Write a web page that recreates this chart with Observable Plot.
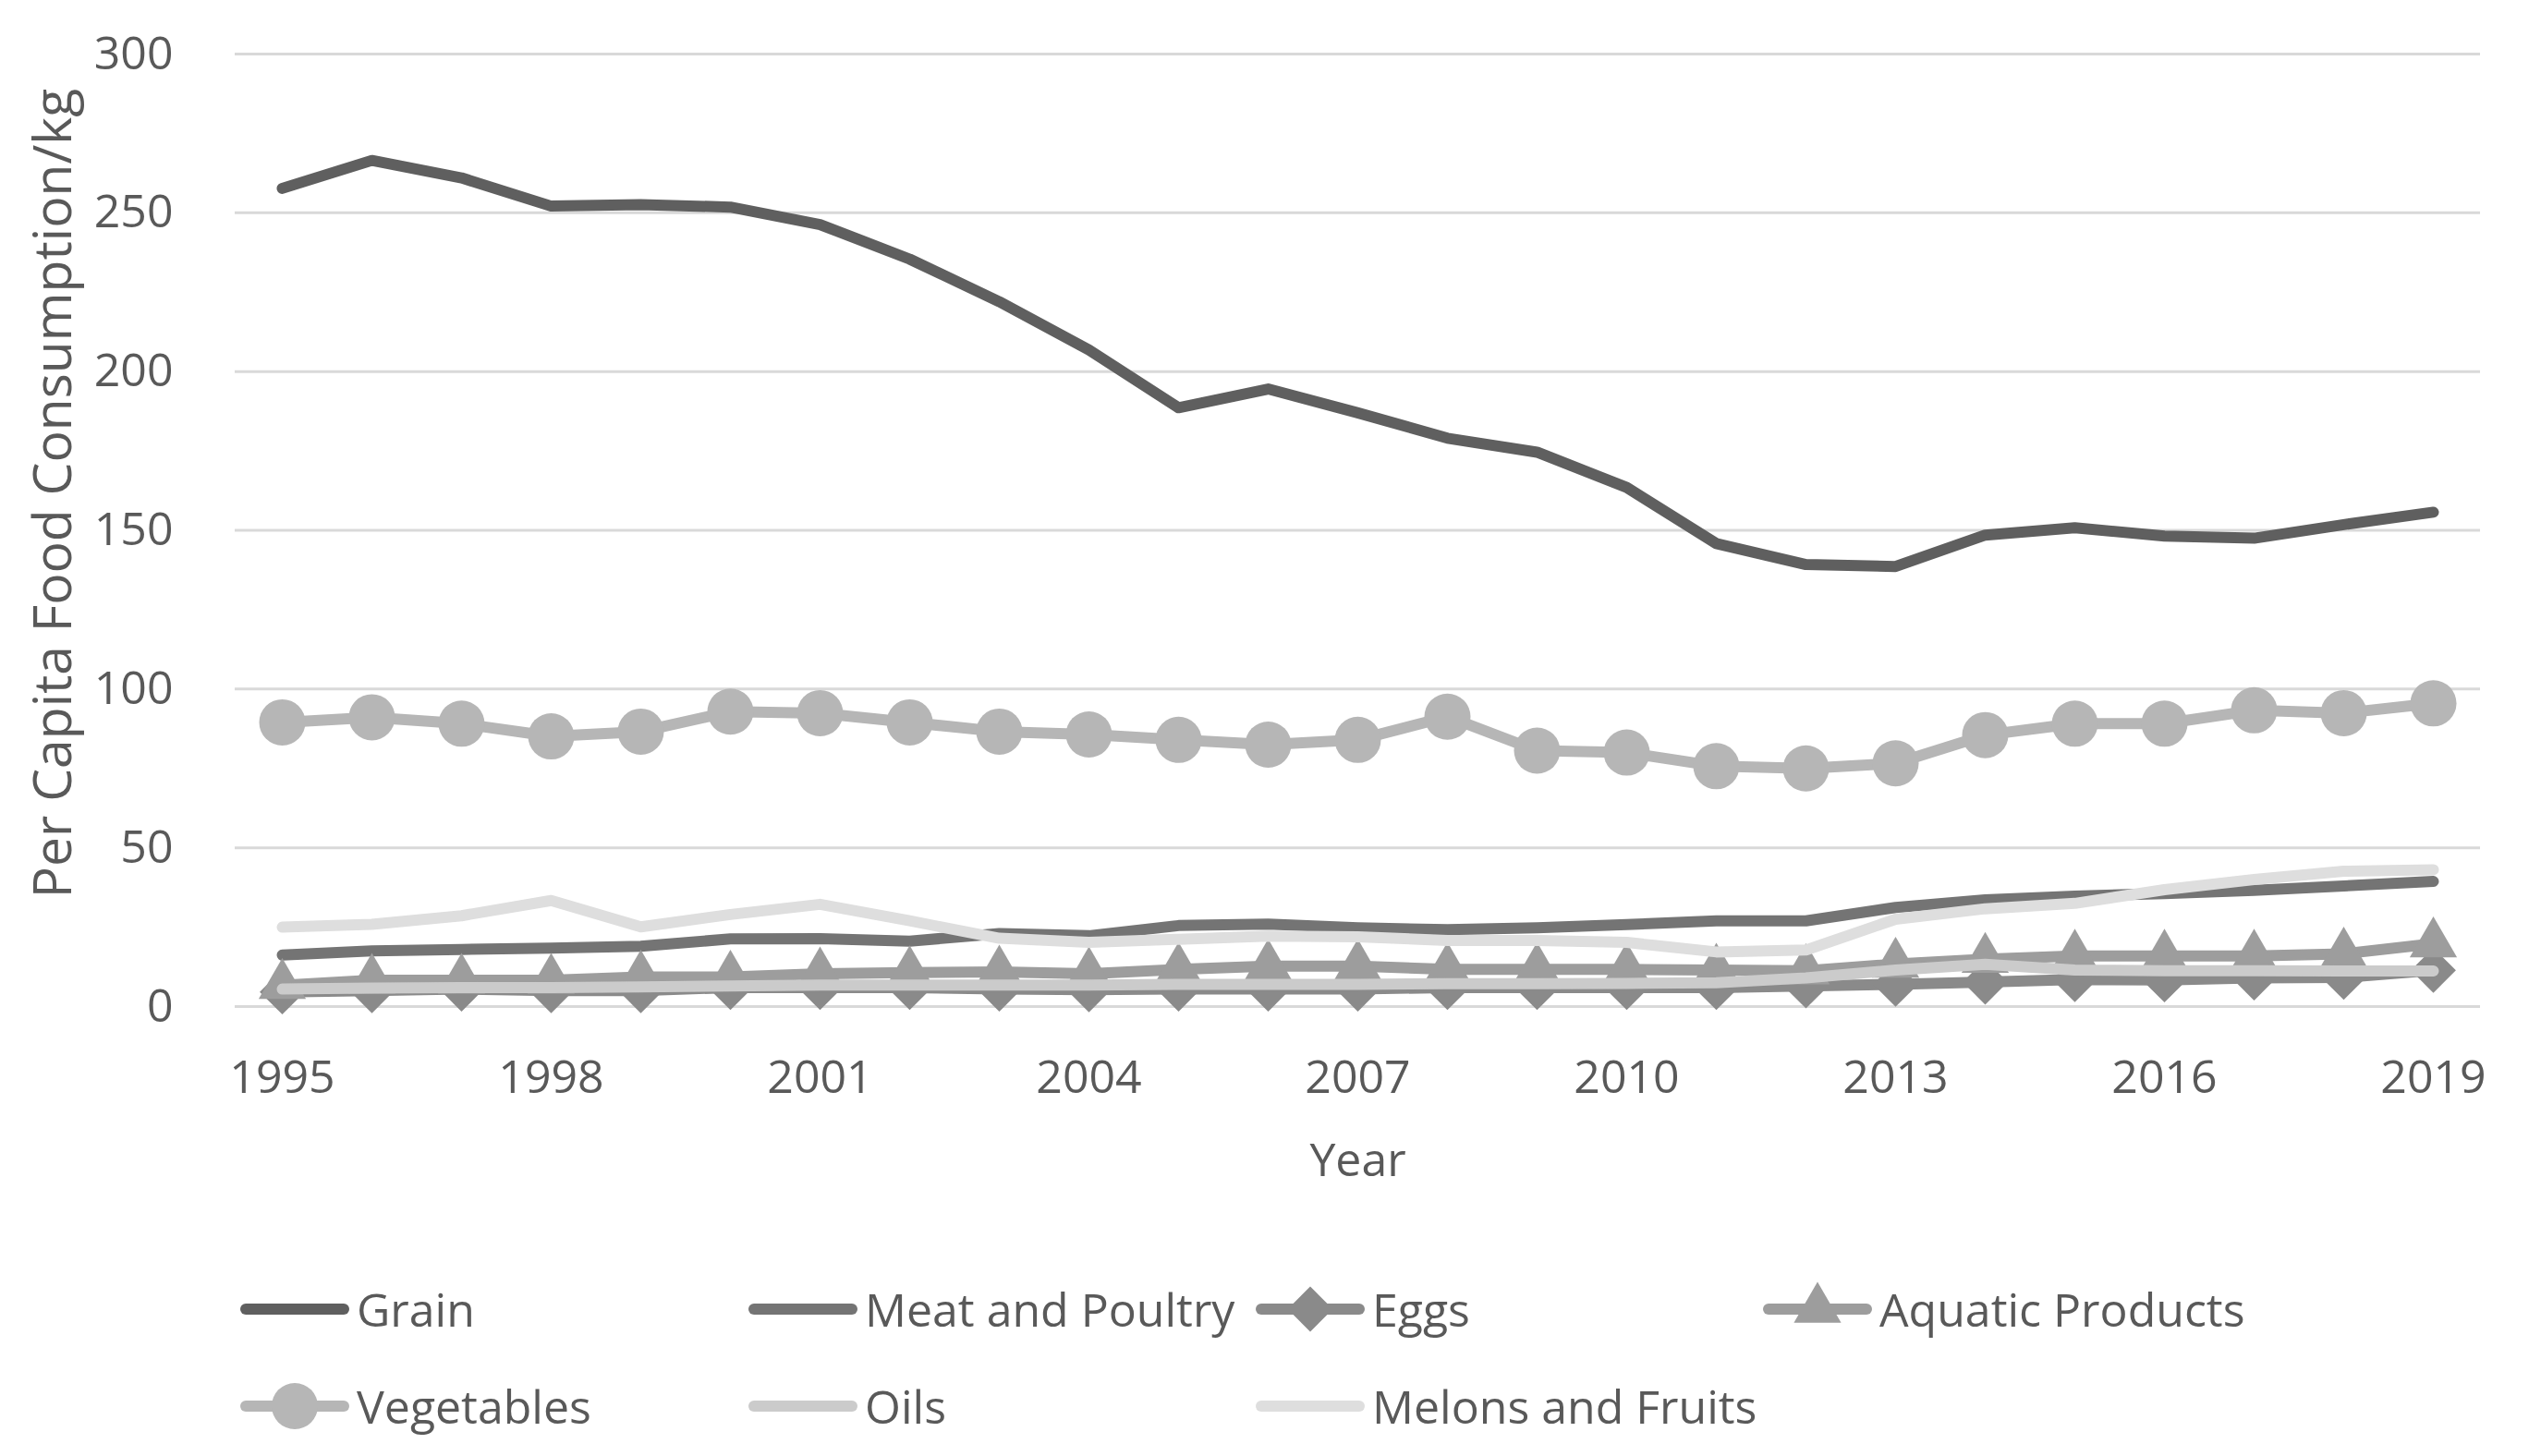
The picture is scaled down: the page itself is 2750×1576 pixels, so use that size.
<!DOCTYPE html>
<html>
<head>
<meta charset="utf-8">
<script src="https://cdn.jsdelivr.net/npm/d3@7"></script>
<script src="https://cdn.jsdelivr.net/npm/@observablehq/plot@0.6"></script>
<style>
  html, body { margin: 0; padding: 0; background: #ffffff; }
  #wrap { position: relative; width: 2750px; height: 1576px; overflow: hidden; background: #fff;
          font-family: "Open Sans", sans-serif; color: #595959; }
  #chart { position: absolute; left: 0; top: 0; }
  .item { position: absolute; height: 70px; display: flex; align-items: center; font-size: 50px; white-space: nowrap; }
  .item svg { display: block; margin-right: 8px; }
</style>
</head>
<body>
<div id="wrap"><div id="chart"></div></div>
<script>
const years = [1995,1996,1997,1998,1999,2000,2001,2002,2003,2004,2005,2006,2007,2008,2009,2010,2011,2012,2013,2014,2015,2016,2017,2018,2019];
const grain      = [257.7,266.5,261.0,252.1,252.6,251.8,246.3,235.4,222.0,206.8,188.6,194.5,187.0,179.0,174.6,163.5,145.8,139.2,138.6,148.5,150.8,148.2,147.5,151.8,155.7];
const meat       = [16.2,17.5,18.0,18.4,19.0,21.3,21.4,20.6,23.0,22.3,25.5,26.0,24.8,24.2,24.8,25.8,27.0,27.0,31.2,33.6,34.8,35.6,36.6,38.0,39.4];
const eggs       = [4.6,5.0,5.5,5.0,5.0,6.0,6.0,6.0,5.5,5.3,5.5,5.5,5.5,6.0,6.0,6.0,6.0,6.5,7.0,7.7,8.5,8.4,9.0,9.2,11.4];
const aquatic    = [6.7,8.3,8.3,8.3,9.3,9.3,10.3,10.7,10.9,10.3,11.7,12.7,12.7,11.7,11.7,11.7,11.5,11.3,13.4,14.9,15.9,15.9,15.9,16.6,19.8];
const vegetables = [89.5,91.1,89.1,85.1,86.6,92.9,92.4,89.5,86.6,85.7,84.0,82.5,84.0,91.3,80.6,80.0,75.7,75.0,76.6,85.5,89.1,89.1,93.3,92.4,95.5];
const oils       = [5.5,5.8,6.0,6.0,6.2,6.5,6.8,6.8,6.8,6.8,7.0,7.0,7.0,7.2,7.2,7.3,7.5,9.0,11.5,13.3,11.5,11.3,11.3,11.2,11.2];
const melons     = [25.0,25.9,28.6,33.4,25.1,29.0,32.2,27.0,21.5,20.2,21.2,22.2,22.0,20.8,20.8,20.2,17.2,17.8,27.5,30.8,32.5,36.8,40.0,42.6,43.1];

const seriesNames   = ["Grain","Meat and Poultry","Eggs","Aquatic Products","Vegetables","Oils","Melons and Fruits"];
const seriesValues  = [grain, meat, eggs, aquatic, vegetables, oils, melons];
const seriesColors  = ["#5f5f5f","#747474","#8a8a8a","#9d9d9d","#b6b6b6","#cbcbcb","#dedede"];
const seriesSymbols = [null, null, "diamond2", "triangle", "circle", null, null];
const symbolR       = {diamond2: 22, triangle: 19, circle: 25};

const xTicks = [1995,1998,2001,2004,2007,2010,2013,2016,2019];
const yTicks = [0,50,100,150,200,250,300];
const xTitle = "Year";
const yTitle = "Per Capita Food Consumption/kg";

const rows = [];
seriesNames.forEach((name, i) => seriesValues[i].forEach((v, j) => rows.push({series: name, year: years[j], value: v})));

const marks = [
  Plot.gridY(yTicks, {stroke: "#d9d9d9", strokeOpacity: 1, strokeWidth: 3}),
  Plot.axisX(xTicks, {tickSize: 0, tickPadding: 58, label: null, fontSize: 50, tickFormat: d => String(d)}),
  Plot.axisY(yTicks, {tickSize: 0, tickPadding: 67, label: null, fontSize: 50, tickFormat: d => String(d)}),
  Plot.text([xTitle], {frameAnchor: "bottom", dy: 183, text: d => d, fontSize: 50, fill: "#595959", textAnchor: "middle"}),
  Plot.text([yTitle], {frameAnchor: "left", dx: -196, dy: -40, rotate: -90, text: d => d, fontSize: 57, fill: "#595959", textAnchor: "middle", lineAnchor: "middle"})
];
seriesNames.forEach((name, i) => {
  const data = rows.filter(r => r.series === name);
  marks.push(Plot.line(data, {x: "year", y: "value", stroke: seriesColors[i], strokeWidth: 12,
    strokeLinecap: "round", strokeLinejoin: "round"}));
  if (seriesSymbols[i]) {
    marks.push(Plot.dot(data, {x: "year", y: "value", symbol: seriesSymbols[i], r: symbolR[seriesSymbols[i]],
      fill: seriesColors[i], stroke: "none"}));
  }
});

const chart = Plot.plot({
  width: 2750,
  height: 1300,
  marginTop: 58,
  marginBottom: 211,
  marginLeft: 254,
  marginRight: 66,
  style: {fontFamily: "'Open Sans', sans-serif", fontSize: "50px", color: "#595959", background: "#ffffff"},
  x: {type: "point", domain: years, padding: 0.5, label: null},
  y: {domain: [0, 300], label: null},
  marks
});
document.getElementById("chart").appendChild(chart);

// Legend
const wrap = d3.select("#wrap");
const legendLeft = [260, 810, 1359, 1908];
const legendTop = [1382, 1487];
seriesNames.forEach((name, i) => {
  const col = i < 4 ? i : i - 4;
  const row = i < 4 ? 0 : 1;
  const item = wrap.append("div").attr("class", "item")
    .style("left", legendLeft[col] + "px").style("top", legendTop[row] + "px");
  const svg = item.append("svg").attr("width", 118).attr("height", 70);
  svg.append("line").attr("x1", 6).attr("x2", 112).attr("y1", 35).attr("y2", 35)
    .attr("stroke", seriesColors[i]).attr("stroke-width", 12).attr("stroke-linecap", "round");
  const sym = seriesSymbols[i];
  if (sym) {
    const s = sym === "diamond2" ? d3.symbolDiamond2 : sym === "triangle" ? d3.symbolTriangle : d3.symbolCircle;
    const r = symbolR[sym];
    svg.append("path").attr("d", d3.symbol(s, Math.PI * r * r)()).attr("transform", "translate(59,35)")
      .attr("fill", seriesColors[i]);
  }
  item.append("span").text(name);
});
</script>
</body>
</html>
